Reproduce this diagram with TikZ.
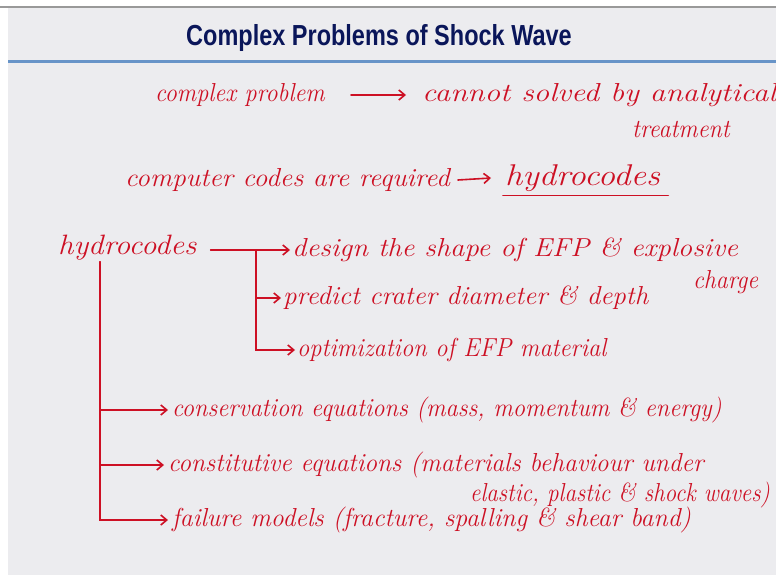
\documentclass[tikz,border=0pt]{standalone}
\usepackage{fontspec}
\newfontfamily\titlefont{Liberation Sans}
\usepackage{xcolor}
\usepackage{tikz}
\usetikzlibrary{calc, arrows.meta}

\definecolor{inkred}{RGB}{205,16,36}
\definecolor{slidegray}{RGB}{236,236,239}
\definecolor{titleblue}{RGB}{10,22,90}
\definecolor{rulerblue}{RGB}{104,148,200}

\newcommand{\wide}[2]{\scalebox{#1}[1]{#2}}

\tikzset{
  hand/.style={text=inkred, font=\fontsize{#1}{#1}\selectfont\itshape, anchor=west, inner sep=2pt},
  hand/.default=26,
  inkline/.style={draw=inkred, line width=1.6pt, line cap=round},
}

\begin{document}
\begin{tikzpicture}[x=1pt, y=-1pt, >={Straight Barb[length=6pt, width=10pt]}]
    \useasboundingbox (0,0) rectangle (776,577);
    \fill[slidegray] (8,7) rectangle (776,575);
    \draw[gray!80, line width=1.5pt] (0,7) -- (776,7);
    \draw[rulerblue, line width=3pt] (8,62) -- (776,62);
    \node[text=titleblue, font=\titlefont\bfseries\fontsize{29}{31}\selectfont] (title) at (379,38) {\wide{0.81}{Complex Problems of Shock Wave}};

    % first two statements
    \node[hand] (cp) at (153,95) {\wide{0.93}{complex problem}};
    \node[hand] (cs) at (420,95) {\wide{1.2}{cannot solved by analytical}};
    \node[hand] (tr) at (630,130) {\wide{0.93}{treatment}};
    \draw[inkline, ->] ([xshift=24pt]cp.east) -- ([xshift=-14pt]cs.west);

    \node[hand] (cc) at (123,180) {\wide{1.06}{computer codes are required}};
    \node[hand=30] (hc) at (503,178) {\wide{1.15}{hydrocodes}};
    \draw[inkline, ->] ([xshift=6pt]cc.east) -- ([xshift=-12pt]hc.west);
    \draw[inkline] ([yshift=-2pt]hc.south west) -- ([yshift=-2pt,xshift=6pt]hc.south east);

    % uses of hydrocodes
    \node[hand=28] (hy) at (56,248) {\wide{1.1}{hydrocodes}};
    \node[hand] (ds) at (290,250) {\wide{1.1}{design the shape of EFP \& explosive}};
    \node[hand] (ch) at (691,282) {\wide{0.92}{charge}};
    \node[hand] (pr) at (281,298) {\wide{1.04}{predict crater diameter \& depth}};
    \node[hand] (op) at (295,350) {\wide{0.94}{optimization of EFP material}};
    \draw[inkline, ->] ([xshift=12pt]hy.east |- ds.west) -- (ds.west);
    \coordinate (bj) at ($(ds.west)+(-34,0)$);
    \draw[inkline, ->] (bj) |- (pr.west);
    \draw[inkline, ->] (bj) |- (op.west);

    % models in hydrocodes
    \node[hand] (cn) at (170,410) {\wide{0.94}{conservation equations (mass, momentum \& energy)}};
    \node[hand] (ct) at (166,465) {\wide{0.98}{constitutive equations (materials behaviour under}};
    \node[hand] (el) at (468,495) {\wide{0.89}{elastic, plastic \& shock waves)}};
    \node[hand] (fm) at (170,520) {\wide{0.99}{failure models (fracture, spalling \& shear band)}};
    \coordinate (tt) at (100,262);
    \draw[inkline, ->, shorten >=2pt] (tt) |- (cn.west);
    \draw[inkline, ->, shorten >=2pt] (tt) |- (ct.west);
    \draw[inkline, ->, shorten >=2pt] (tt) |- (fm.west);
\end{tikzpicture}
\end{document}
